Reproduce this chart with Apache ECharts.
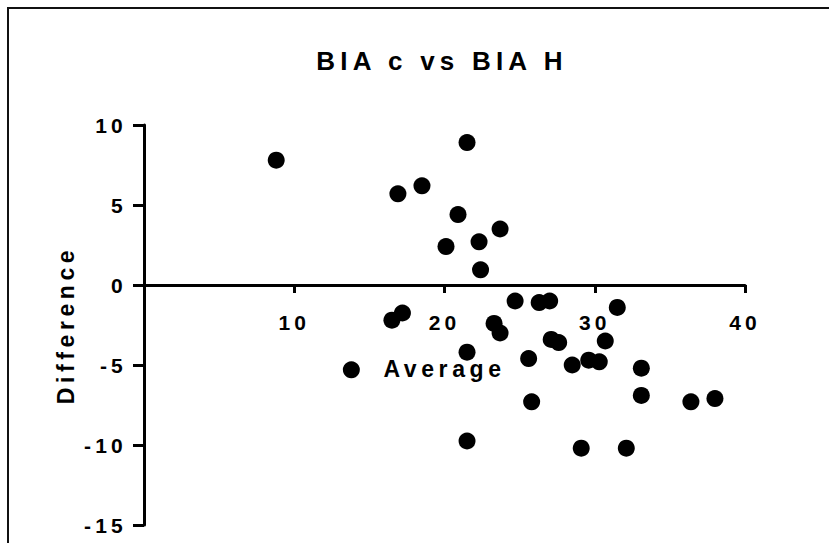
<!DOCTYPE html>
<html>
<head>
<meta charset="utf-8">
<script src="https://cdn.jsdelivr.net/npm/echarts@6/dist/echarts.min.js"></script>
<style>
html,body{margin:0;padding:0;background:#fff;}
#chart{width:829px;height:543px;}
#chart text{letter-spacing:0.2em;}
</style>
</head>
<body>
<div id="chart"></div>
<script>
var titleText = 'BIA c vs BIA H';
var xName = 'Average';
var yName = 'Difference';
var averages = [8.8, 16.9, 18.5, 21.5, 20.9, 20.1, 22.3, 23.7, 22.4, 16.5, 17.2, 13.8, 21.5, 21.5, 23.3, 23.7, 24.7, 25.6, 25.8, 26.3, 27.0, 27.1, 27.6, 28.5, 29.6, 30.3, 29.1, 30.7, 31.5, 32.1, 33.1, 33.1, 36.4, 38.0];
var differences = [7.8, 5.7, 6.2, 8.9, 4.4, 2.4, 2.7, 3.5, 0.95, -2.2, -1.75, -5.3, -4.2, -9.75, -2.4, -3.0, -1.0, -4.6, -7.3, -1.1, -1.0, -3.4, -3.6, -5.0, -4.7, -4.8, -10.2, -3.5, -1.4, -10.2, -5.2, -6.9, -7.3, -7.1];
var xTicks = [0, 10, 20, 30, 40];
var yTicks = [-15, -10, -5, 0, 5, 10];

var points = averages.map(function (a, i) { return [a, differences[i]]; });
var font = 'Liberation Sans, Arial, sans-serif';
var chart = echarts.init(document.getElementById('chart'), null, {renderer: 'svg'});
var gridTop = 125, gridBottom = 18, plotH = 543 - gridTop - gridBottom;
var yMin = yTicks[0], yMax = yTicks[yTicks.length - 1];
// shift x axis up so it crosses the y axis at 0
var xOffset = -plotH * (0 - yMin) / (yMax - yMin);
chart.setOption({
  animation: false,
  backgroundColor: '#fff',
  title: {
    text: titleText,
    left: 437,
    textAlign: 'center',
    top: 43,
    textStyle: {fontFamily: font, fontWeight: 'bold', fontSize: 26, color: '#000'}
  },
  grid: {left: 144, right: 84, top: gridTop, bottom: gridBottom, containLabel: false, outerBoundsMode: 'none'},
  xAxis: {
    type: 'value',
    min: xTicks[0], max: xTicks[xTicks.length - 1], interval: 10,
    position: 'bottom',
    offset: xOffset,
    name: xName, nameLocation: 'middle', nameGap: 72,
    nameTextStyle: {fontFamily: font, fontWeight: 'bold', fontSize: 23, color: '#000'},
    axisLine: {onZero: false, lineStyle: {color: '#000', width: 3}},
    axisTick: {length: 8, lineStyle: {color: '#000', width: 3}},
    axisLabel: {showMinLabel: false, margin: 27, fontFamily: font, fontWeight: 'bold', fontSize: 21, color: '#000'},
    splitLine: {show: false}
  },
  yAxis: {
    type: 'value',
    min: yMin, max: yMax, interval: 5,
    name: yName, nameLocation: 'middle', nameGap: 67,
    nameTextStyle: {fontFamily: font, fontWeight: 'bold', fontSize: 23, color: '#000'},
    axisLine: {onZero: false, lineStyle: {color: '#000', width: 3}},
    axisTick: {length: 11, lineStyle: {color: '#000', width: 3}},
    axisLabel: {margin: 17, fontFamily: font, fontWeight: 'bold', fontSize: 21, color: '#000'},
    splitLine: {show: false}
  },
  graphic: [{
    type: 'rect',
    shape: {x: 8, y: 8, width: 1000, height: 1000},
    style: {fill: 'none', stroke: '#111', lineWidth: 2},
    silent: true, z: -1
  }],
  series: [{
    type: 'scatter',
    data: points,
    symbol: 'circle',
    symbolSize: 17,
    itemStyle: {color: '#000', opacity: 1}
  }]
});
</script>
</body>
</html>
